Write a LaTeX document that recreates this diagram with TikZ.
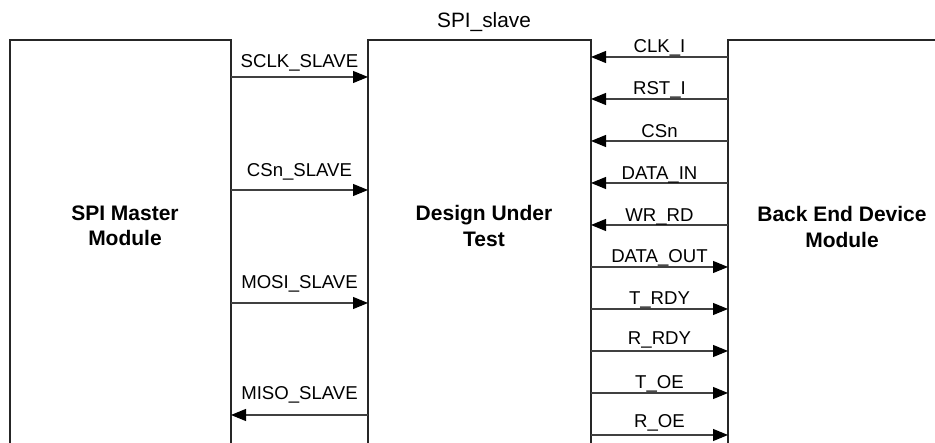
\documentclass[tikz,border=0pt]{standalone}
\usepackage{fontspec}
\setmainfont{Liberation Sans}
\usetikzlibrary{arrows.meta}

\begin{document}
\begin{tikzpicture}[x=1pt,y=1pt,
  line width=1.1pt,
  block/.style={draw=black!85, line width=1.2pt, rectangle, anchor=north west,
    inner sep=0pt, outer sep=0pt, minimum height=440pt},
  blocktitle/.style={font=\fontsize{21}{25.5}\selectfont\bfseries, align=center, inner sep=0pt},
  sig/.style={draw=black!75, -{Triangle[length=15pt,width=12pt,color=black]}},
  siglabel/.style={font=\fontsize{18.6}{22}\selectfont, anchor=base, inner sep=0pt}
]
\useasboundingbox (0,0) rectangle (935,443);
\clip (0,0) rectangle (935,443);

% the three blocks run past the lower edge
\node[block, minimum width=221pt] (mst) at (10,403) {};
\node[block, minimum width=223pt] (dut) at (368,403) {};
\node[block, minimum width=240pt] (bed) at (728,403) {};

\node[font=\fontsize{20.8}{24}\selectfont, anchor=base, inner sep=0pt] (title) at (484,415) {SPI\_slave};

\node[blocktitle] (msttext) at (125,217) {SPI Master\\Module};
\node[blocktitle] (duttext) at (484,217) {Design Under\\Test};
\node[blocktitle] (bedtext) at (842,216) {Back End Device\\Module};

% master <-> design under test
\draw[sig] (mst.east |- 0,366) -- node[siglabel, yshift=9pt] (l1) {SCLK\_SLAVE} (dut.west |- 0,366);
\draw[sig] (mst.east |- 0,253) -- node[siglabel, yshift=13pt] (l2) {CSn\_SLAVE} (dut.west |- 0,253);
\draw[sig] (mst.east |- 0,140) -- node[siglabel, yshift=14pt] (l3) {MOSI\_SLAVE} (dut.west |- 0,140);
\draw[sig] (dut.west |- 0,28) -- node[siglabel, yshift=15pt] (l4) {MISO\_SLAVE} (mst.east |- 0,28);

% back end device -> design under test
\draw[sig] (bed.west |- 0,386) -- node[siglabel, yshift=4pt] (r1) {CLK\_I} (dut.east |- 0,386);
\draw[sig] (bed.west |- 0,344) -- node[siglabel, yshift=4pt] (r2) {RST\_I} (dut.east |- 0,344);
\draw[sig] (bed.west |- 0,302) -- node[siglabel, yshift=3pt] (r3) {CSn} (dut.east |- 0,302);
\draw[sig] (bed.west |- 0,260) -- node[siglabel, yshift=3pt] (r4) {DATA\_IN} (dut.east |- 0,260);
\draw[sig] (bed.west |- 0,218) -- node[siglabel, yshift=3.5pt] (r5) {WR\_RD} (dut.east |- 0,218);

% design under test -> back end device
\draw[sig] (dut.east |- 0,176) -- node[siglabel, yshift=4pt] (r6) {DATA\_OUT} (bed.west |- 0,176);
\draw[sig] (dut.east |- 0,134) -- node[siglabel, yshift=4pt] (r7) {T\_RDY} (bed.west |- 0,134);
\draw[sig] (dut.east |- 0,92) -- node[siglabel, yshift=6pt] (r8) {R\_RDY} (bed.west |- 0,92);
\draw[sig] (dut.east |- 0,50) -- node[siglabel, yshift=4pt] (r9) {T\_OE} (bed.west |- 0,50);
\draw[sig] (dut.east |- 0,8) -- node[siglabel, yshift=7pt] (r10) {R\_OE} (bed.west |- 0,8);
\end{tikzpicture}
\end{document}
